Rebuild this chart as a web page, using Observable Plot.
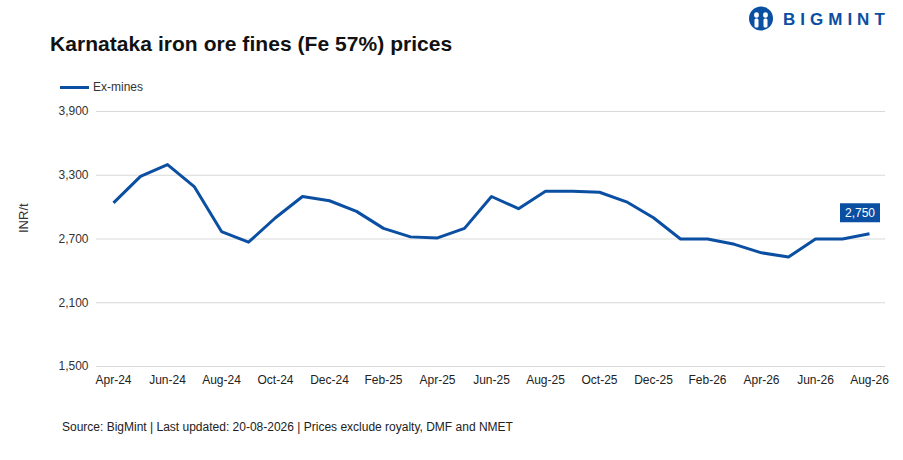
<!DOCTYPE html>
<html>
<head>
<meta charset="utf-8">
<script src="https://cdn.jsdelivr.net/npm/d3@7"></script>
<script src="https://cdn.jsdelivr.net/npm/@observablehq/plot@0.6"></script>
<style>
  html, body { margin: 0; padding: 0; background: #fff; }
  #page { position: relative; width: 903px; height: 460px; font-family: "Liberation Sans", Arial, sans-serif; color: #222; overflow: hidden; }
  #title { position: absolute; left: 50px; top: 32px; font-size: 21px; font-weight: bold; color: #111; white-space: nowrap; letter-spacing: 0.05px; }
  #legend { position: absolute; left: 60px; top: 80px; font-size: 12px; color: #333; display: flex; align-items: center; }
  #legend .sw { width: 29px; height: 3px; background: #0b4fa3; margin-right: 4px; }
  #logo { position: absolute; left: 748px; top: 6px; }
  #chart { position: absolute; left: 0; top: 100px; }
  #source { position: absolute; left: 62px; top: 420px; font-size: 12px; color: #222; white-space: nowrap; }
</style>
</head>
<body>
<div id="page">
  <svg id="logo" width="150" height="28" viewBox="0 0 150 28">
    <circle cx="13" cy="12.5" r="12" fill="#0b4fa3"/>
    <ellipse cx="8.5" cy="9" rx="2.4" ry="2.8" fill="#fff"/>
    <ellipse cx="17.5" cy="9" rx="2.4" ry="2.8" fill="#fff"/>
    <rect x="6.5" y="12.5" width="4" height="9" rx="1.5" fill="#fff"/>
    <rect x="15.5" y="12.5" width="4" height="9" rx="1.5" fill="#fff"/>
    <text x="35" y="19" font-family="Liberation Sans, Arial, sans-serif" font-weight="bold" font-size="17" letter-spacing="5" fill="#0b4fa3">BIGMINT</text>
  </svg>
  <div id="title">Karnataka iron ore fines (Fe 57%) prices</div>
  <div id="legend"><span class="sw"></span><span>Ex-mines</span></div>
  <div id="chart"></div>
  <div id="source">Source: BigMint | Last updated: 20-08-2026 | Prices exclude royalty, DMF and NMET</div>
</div>
<script>
const months = ["Apr-24","May-24","Jun-24","Jul-24","Aug-24","Sep-24","Oct-24","Nov-24","Dec-24",
  "Jan-25","Feb-25","Mar-25","Apr-25","May-25","Jun-25","Jul-25","Aug-25","Sep-25","Oct-25","Nov-25","Dec-25",
  "Jan-26","Feb-26","Mar-26","Apr-26","May-26","Jun-26","Jul-26","Aug-26"];
const exMines = [3040,3290,3400,3190,2770,2670,2900,3100,3060,
  2960,2800,2720,2710,2800,3100,2985,3150,3150,3140,3050,2900,
  2700,2700,2650,2570,2530,2700,2700,2750];
const xTickLabels = ["Apr-24","Jun-24","Aug-24","Oct-24","Dec-24","Feb-25","Apr-25","Jun-25",
  "Aug-25","Oct-25","Dec-25","Feb-26","Apr-26","Jun-26","Aug-26"];
const yTicks = [1500, 2100, 2700, 3300, 3900];
const seriesName = "Ex-mines";
const yLabel = "INR/t";

const data = months.map((m, i) => ({month: m, value: exMines[i]}));
const last = [data[data.length - 1]];
const blue = "#0b4fa3";
const fmt = d3.format(",");
const boxSymbol = { draw(ctx) { ctx.rect(-20, -9.5, 40, 19); } };

const chart = Plot.plot({
  width: 903,
  height: 300,
  marginLeft: 96,
  marginRight: 18,
  marginTop: 11,
  marginBottom: 34,
  style: { fontFamily: "'Liberation Sans', Arial, sans-serif", fontSize: "12px", color: "#333", background: "transparent" },
  x: { type: "point", domain: months, padding: 0.47 },
  y: { domain: [1500, 3900] },
  marks: [
    Plot.gridY(yTicks, { stroke: "#d9d9d9", strokeOpacity: 1, strokeWidth: 1 }),
    Plot.axisY({ ticks: yTicks, tickSize: 0, tickPadding: 8, tickFormat: fmt, label: null, fontSize: 12, fill: "#333" }),
    Plot.axisX({ ticks: xTickLabels, tickSize: 0, tickPadding: 9, label: null, fontSize: 12, fill: "#222" }),
    Plot.text([yLabel], { frameAnchor: "left", dx: -73, dy: -6, rotate: -90, fontSize: 13, fill: "#333" }),
    Plot.line(data, { x: "month", y: "value", stroke: blue, strokeWidth: 3, strokeLinejoin: "round", strokeLinecap: "butt" }),
    Plot.dot(last, { x: "month", y: "value", symbol: boxSymbol, fill: blue, stroke: "none", dx: -9.5, dy: -21 }),
    Plot.text(last, { x: "month", y: "value", text: d => fmt(d.value), fill: "white", fontSize: 12, dx: -9.5, dy: -21 })
  ]
});
document.getElementById("chart").appendChild(chart);
</script>
</body>
</html>
